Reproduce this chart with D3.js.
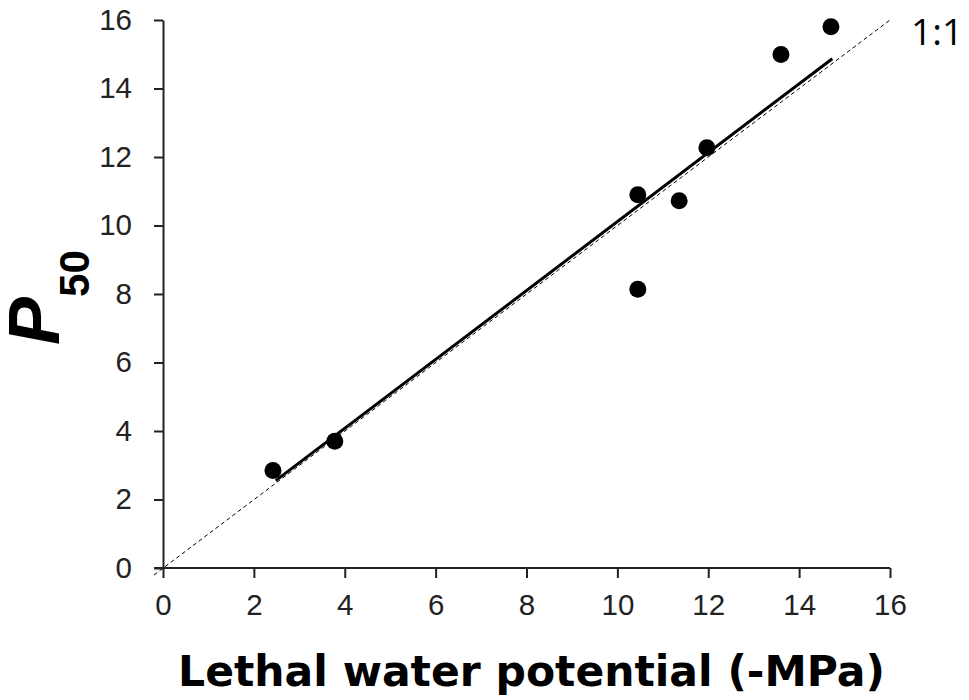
<!DOCTYPE html>
<html>
<head>
<meta charset="utf-8">
<script src="https://d3js.org/d3.v7.min.js"></script>
<style>
  body { margin: 0; background: #fff; }
</style>
</head>
<body>
<div id="chart"></div>
<script>
// values
var lethalPsi = [2.42, 3.78, 10.45, 10.45, 11.36, 11.97, 13.6, 14.7];
var p50 = [2.85, 3.70, 10.90, 8.14, 10.72, 12.27, 14.99, 15.80];
var fitX = [2.48, 14.73];
var fitY = [2.55, 14.87];
var oneToOne = [0, 16];
var xTicks = [0, 2, 4, 6, 8, 10, 12, 14, 16];
var yTicks = [0, 2, 4, 6, 8, 10, 12, 14, 16];

var W = 969, H = 700;
var margin = { left: 163, right: 79, top: 20, bottom: 132 };

var svg = d3.select("#chart").append("svg")
    .attr("width", W)
    .attr("height", H);

var x = d3.scaleLinear().domain([0, 16]).range([margin.left, W - margin.right]);
var y = d3.scaleLinear().domain([0, 16]).range([H - margin.bottom, margin.top]);

// 1:1 line
svg.append("line")
    .attr("x1", x(oneToOne[0]) - 9).attr("y1", y(oneToOne[0]) + 7)
    .attr("x2", x(oneToOne[1])).attr("y2", y(oneToOne[1]))
    .attr("stroke", "#000")
    .attr("stroke-width", 1)
    .attr("stroke-dasharray", "4,3");

svg.append("text")
    .attr("x", 911)
    .attr("y", 45)
    .attr("font-family", "Open Sans")
    .attr("font-size", 37)
    .attr("fill", "#000")
    .text("1:1");

// regression line
svg.append("line")
    .attr("x1", x(fitX[0])).attr("y1", y(fitY[0]))
    .attr("x2", x(fitX[1])).attr("y2", y(fitY[1]))
    .attr("stroke", "#000")
    .attr("stroke-width", 3);

// points
svg.selectAll("circle.pt")
    .data(lethalPsi)
    .enter()
    .append("circle")
    .attr("class", "pt")
    .attr("cx", function (d) { return x(d) })
    .attr("cy", function (d, i) { return y(p50[i]) })
    .attr("r", 8.5)
    .attr("fill", "#000");

// axes
var xAxis = svg.append("g")
    .attr("transform", "translate(0," + y(0) + ")")
    .call(d3.axisBottom(x).tickValues(xTicks).tickSize(10).tickSizeOuter(0).tickPadding(16));
var yAxis = svg.append("g")
    .attr("transform", "translate(" + x(0) + ",0)")
    .call(d3.axisLeft(y).tickValues(yTicks).tickSize(9).tickSizeOuter(0).tickPadding(22));

[xAxis, yAxis].forEach(function (g) {
    g.select(".domain").attr("stroke", "#222").attr("stroke-width", 2);
    g.selectAll(".tick line").attr("stroke", "#222").attr("stroke-width", 2);
    g.selectAll(".tick text")
        .attr("fill", "#222")
        .attr("font-family", "Liberation Sans, Arial, sans-serif")
        .attr("font-size", 29.5);
});
// x axis line runs a little past the y axis
xAxis.select(".domain").attr("d", "M" + (x(0) - 9) + ",0H" + x(16));

// x title
svg.append("text")
    .attr("x", (178 + 885) / 2)
    .attr("y", 686)
    .attr("text-anchor", "middle")
    .attr("font-family", "DejaVu Sans")
    .attr("font-weight", "bold")
    .attr("font-size", 42.5)
    .attr("fill", "#000")
    .text("Lethal water potential (-MPa)");

// y title: P with subscript 50
var yt = svg.append("text")
    .attr("transform", "translate(59,345) rotate(-90)")
    .attr("font-family", "Liberation Sans, Arial, sans-serif")
    .attr("font-weight", "bold")
    .attr("fill", "#000");
yt.append("tspan")
    .attr("font-style", "italic")
    .attr("font-size", 72)
    .text("P");
yt.append("tspan")
    .attr("font-size", 42)
    .attr("dy", 30)
    .text("50");
</script>
</body>
</html>
